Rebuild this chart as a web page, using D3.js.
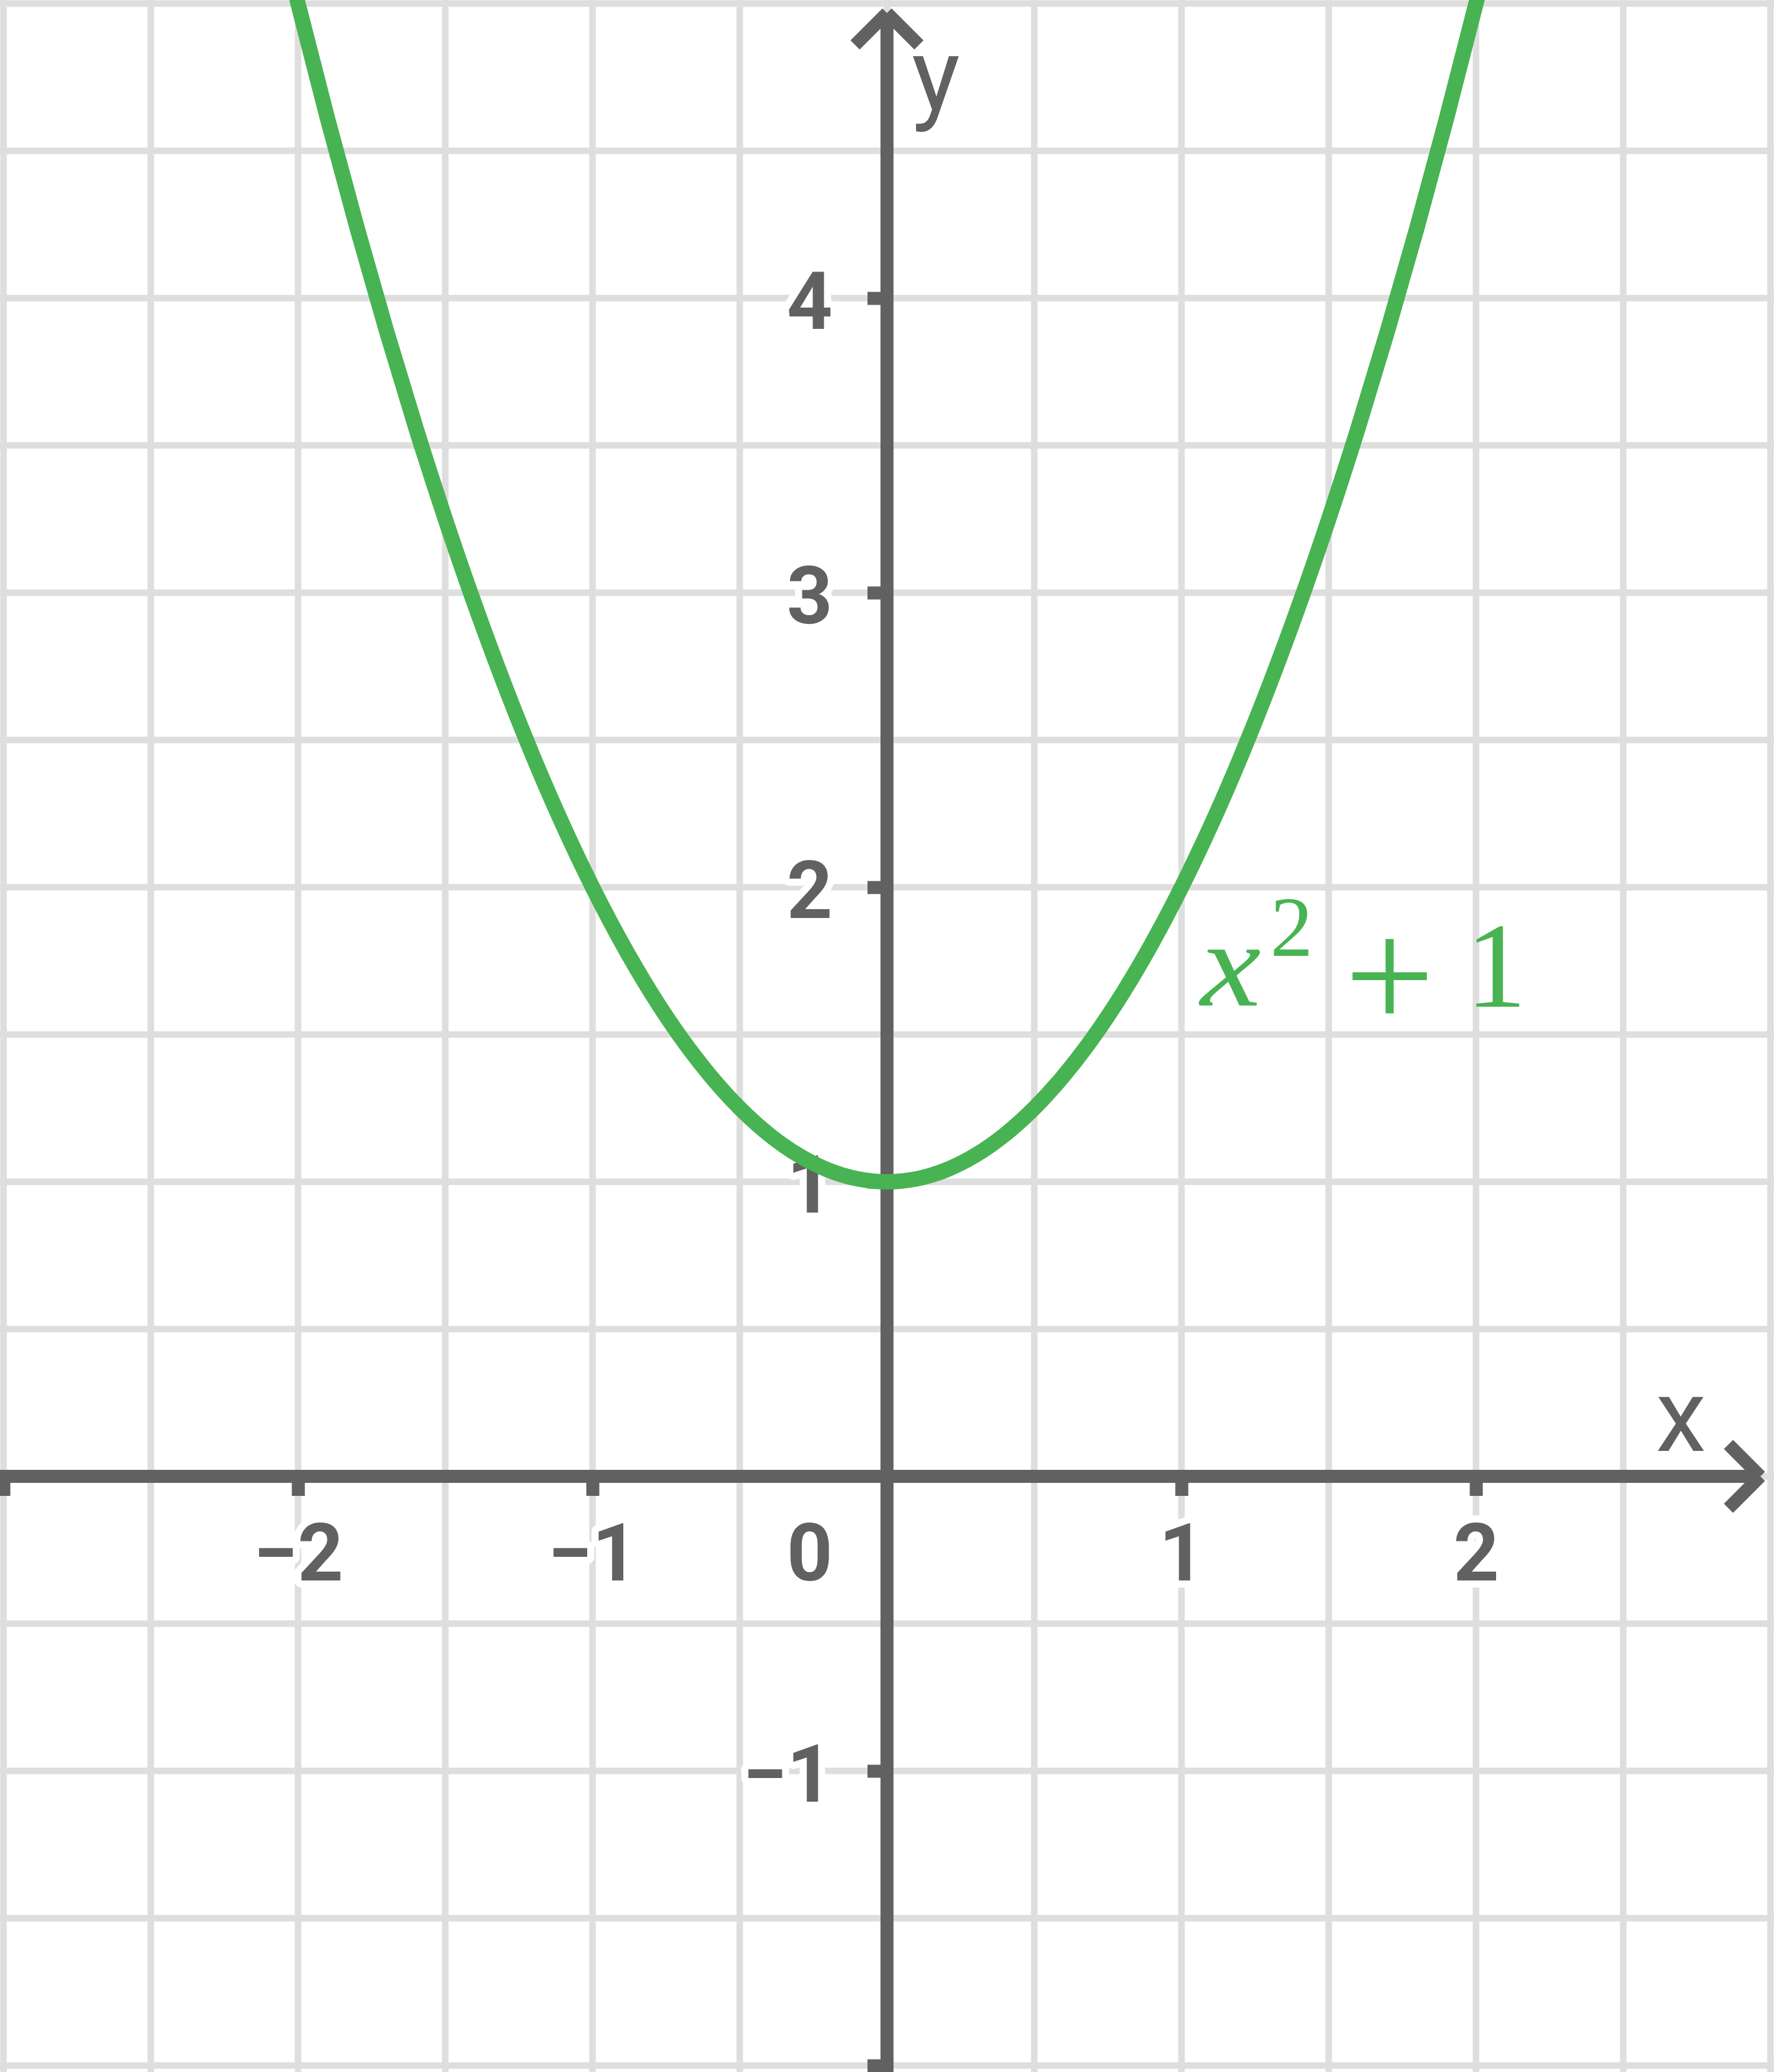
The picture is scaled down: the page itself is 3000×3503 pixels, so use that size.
<!DOCTYPE html>
<html>
<head>
<meta charset="utf-8">
<script src="https://cdn.jsdelivr.net/npm/d3@7"></script>
<style>
  html, body { margin: 0; padding: 0; background: #fff; }
  svg { display: block; }
</style>
</head>
<body>
<svg id="chart"></svg>
<script>
// values
var xDomain = [-3, 3];
var yDomain = [-2, 5];
var gridX = [-3, -2.5, -2, -1.5, -1, -0.5, 0, 0.5, 1, 1.5, 2, 2.5, 3];
var gridY = [-2, -1.5, -1, -0.5, 0, 0.5, 1, 1.5, 2, 2.5, 3, 3.5, 4, 4.5, 5];
var xTicks = [-3, -2, -1, 1, 2];
var yTicks = [-2, -1, 1, 2, 3, 4];
var xTickLabels = ["", "\u22122", "\u22121", "1", "2"];
var yTickLabels = ["", "\u22121", "1", "2", "3", "4"];
var curveX = [-2.1, -2.0, -1.9, -1.8, -1.7, -1.6, -1.5, -1.4, -1.3, -1.2, -1.1,
              -1.0, -0.9, -0.8, -0.7, -0.6, -0.5, -0.4, -0.3, -0.2, -0.1, 0,
              0.1, 0.2, 0.3, 0.4, 0.5, 0.6, 0.7, 0.8, 0.9, 1.0,
              1.1, 1.2, 1.3, 1.4, 1.5, 1.6, 1.7, 1.8, 1.9, 2.0, 2.1];
var curveY = [5.41, 5.0, 4.61, 4.24, 3.89, 3.56, 3.25, 2.96, 2.69, 2.44, 2.21,
              2.0, 1.81, 1.64, 1.49, 1.36, 1.25, 1.16, 1.09, 1.04, 1.01, 1.0,
              1.01, 1.04, 1.09, 1.16, 1.25, 1.36, 1.49, 1.64, 1.81, 2.0,
              2.21, 2.44, 2.69, 2.96, 3.25, 3.56, 3.89, 4.24, 4.61, 5.0, 5.41];

var width = 3000, height = 3503;
var axisColor = "#616161", gridColor = "#dedede", green = "#48b352";

var svg = d3.select("#chart").attr("width", width).attr("height", height);

var x = d3.scaleLinear().domain(xDomain).range([6, 2994]);
var y = d3.scaleLinear().domain(yDomain).range([3492, 6]);

/**
 * Light grey grid every half unit.
 */
function drawGrid(){
    var grid = svg.append("g").attr("class", "grid")
        .style("stroke", gridColor)
        .attr("stroke-width", 11);
    grid.selectAll(".gx")
    .data(gridX)
    .enter().append("line")
    .attr("class", "gx")
    .attr("x1", function (d) {return x(d);})
    .attr("x2", function (d) {return x(d);})
    .attr("y1", 0)
    .attr("y2", height);
    grid.selectAll(".gy")
    .data(gridY)
    .enter().append("line")
    .attr("class", "gy")
    .attr("x1", 0)
    .attr("x2", width)
    .attr("y1", function (d) {return y(d);})
    .attr("y2", function (d) {return y(d);});
}

/**
 * Style a d3 axis group: square ticks and bold haloed labels.
 */
function styleAxis(g){
    g.select(".domain").remove();
    g.attr("font-family", null).attr("font-size", null);
    g.selectAll(".tick line")
    .style("stroke", axisColor)
    .attr("stroke-width", 22)
    .attr("stroke-linecap", "butt");
    g.selectAll(".tick text")
    .style("fill", axisColor)
    .style("font-family", "Roboto, 'Liberation Sans', sans-serif")
    .style("font-weight", 700)
    .style("font-size", "135px")
    .style("stroke", "#fff")
    .style("stroke-width", 24)
    .style("stroke-linejoin", "round")
    .style("paint-order", "stroke");
}

function drawAxes(){
    var xAxis = d3.axisBottom(x)
        .tickValues(xTicks)
        .tickSizeInner(33)
        .tickSizeOuter(0)
        .tickPadding(47)
        .tickFormat(function (d, i) {return xTickLabels[i];});
    var gx = svg.append("g").attr("class", "x-axis")
        .attr("transform", "translate(0," + y(0) + ")")
        .call(xAxis);
    styleAxis(gx);

    var yAxis = d3.axisLeft(y)
        .tickValues(yTicks)
        .tickSizeInner(33)
        .tickSizeOuter(0)
        .tickPadding(59)
        .tickFormat(function (d, i) {return yTickLabels[i];});
    var gy = svg.append("g").attr("class", "y-axis")
        .attr("transform", "translate(" + x(0) + ",0)")
        .call(yAxis);
    styleAxis(gy);
    gy.selectAll(".tick text").attr("dy", "0.385em");

    // origin label sits left of the y axis
    svg.append("text")
    .attr("x", x(0) - 92)
    .attr("y", y(0) + 176)
    .attr("text-anchor", "end")
    .style("fill", axisColor)
    .style("font-family", "Roboto, 'Liberation Sans', sans-serif")
    .style("font-weight", 700)
    .style("font-size", "135px")
    .style("stroke", "#fff")
    .style("stroke-width", 24)
    .style("stroke-linejoin", "round")
    .style("paint-order", "stroke")
    .text("0");

    var tipX = x(xDomain[1]) - 17, tipY = y(yDomain[1]) + 16;
    var lines = svg.append("g").attr("class", "axis-lines")
        .style("stroke", axisColor)
        .attr("stroke-width", 22)
        .attr("stroke-linecap", "butt");
    lines.append("line")
    .attr("x1", 0).attr("y1", y(0))
    .attr("x2", tipX).attr("y2", y(0));
    lines.append("line")
    .attr("x1", x(0)).attr("y1", height)
    .attr("x2", x(0)).attr("y2", tipY);
    // arrow heads, two arms each
    [[-54, -54], [-54, 54]].forEach(function (a) {
        lines.append("line")
        .attr("x1", tipX).attr("y1", y(0))
        .attr("x2", tipX + a[0]).attr("y2", y(0) + a[1]);
    });
    [[-54, 54], [54, 54]].forEach(function (a) {
        lines.append("line")
        .attr("x1", x(0)).attr("y1", tipY)
        .attr("x2", x(0) + a[0]).attr("y2", tipY + a[1]);
    });

    svg.append("text")
    .attr("x", 2800).attr("y", 2453)
    .style("fill", axisColor)
    .style("font-family", "Roboto, sans-serif")
    .style("font-size", "172px")
    .text("x");
    svg.append("text")
    .attr("x", x(0) + 42).attr("y", 186)
    .style("fill", axisColor)
    .style("font-family", "Roboto, sans-serif")
    .style("font-size", "172px")
    .text("y");
}

function drawCurve(){
    var pts = curveX.map(function (d, i) {return [d, curveY[i]];});
    var line = d3.line()
        .x(function (d) {return x(d[0]);})
        .y(function (d) {return y(d[1]);})
        .curve(d3.curveNatural);
    svg.append("path")
    .datum(pts)
    .attr("d", line)
    .style("fill", "none")
    .style("stroke", green)
    .attr("stroke-width", 26)
    .attr("stroke-linejoin", "round");
}

/**
 * The formula label, x squared plus one.
 */
function drawFormula(){
    var f = svg.append("g").attr("class", "formula")
        .style("fill", green)
        .style("font-family", "'Liberation Serif', 'DejaVu Serif', serif");
    f.append("text")
    .attr("transform", "translate(2030,1700) scale(1.12,1)")
    .style("font-style", "italic")
    .style("font-size", "206px")
    .text("x");
    f.append("text")
    .attr("x", 2148).attr("y", 1616)
    .style("font-size", "145px")
    .text("2");
    f.append("text")
    .attr("x", 2350).attr("y", 1740)
    .attr("text-anchor", "middle")
    .style("font-size", "270px")
    .text("+");
    f.append("text")
    .attr("x", 2530).attr("y", 1702)
    .attr("text-anchor", "middle")
    .style("font-size", "206px")
    .text("1");
}

drawGrid();
drawAxes();
drawCurve();
drawFormula();
</script>
</body>
</html>
